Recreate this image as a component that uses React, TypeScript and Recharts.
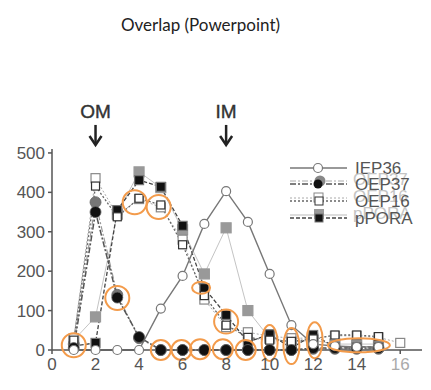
import React from 'react'
import {
  ComposedChart,
  Line,
  Scatter,
  XAxis,
  YAxis,
  ReferenceDot,
} from 'recharts'

const fractions = [1, 2, 3, 4, 5, 6, 7, 8, 9, 10, 11, 12, 13, 14, 15, 16]
const iep36 = [0, 0, 0, 0, 105, 188, 320, 403, 325, 193, 63, 15, 10, 8, 8, null]
const oep37 = [5, 350, 133, 33, 0, 0, 0, 0, 0, 0, 0, 5, 5, 5, 5, null]
const oep37Gray = [15, 375, 140, 30, 0, 0, 0, 0, 0, 0, 0, 3, 3, 3, 3, null]
const oep16 = [25, 416, 338, 385, 368, 267, 138, 63, 32, 25, 22, 28, 38, 38, 34, null]
const oep16Gray = [30, 436, 342, 383, 362, 280, 128, 58, 45, 35, 30, 30, 36, 36, 32, 18]
const ppora = [10, 18, 355, 431, 414, 315, 157, 89, 20, 40, 5, 38, 8, 8, 8, null]
const pporaGray = [25, 84, 345, 452, 412, 305, 193, 310, 100, 30, 20, 25, 15, 15, 15, null]

const xTicks = [0, 2, 4, 6, 8, 10, 12, 14, 16]
const yTicks = [0, 100, 200, 300, 400, 500]

const markers = [
  { label: 'OM', x: 2 },
  { label: 'IM', x: 8 },
]

// orange highlights drawn over the scan
const circleMarks = [
  { x: 1, y: 12 },
  { x: 3, y: 132 },
  { x: 3.8, y: 375 },
  { x: 4.9, y: 363 },
  { x: 8, y: 72 },
]
const baseMarks = [
  { x: 5, y: 0 },
  { x: 5.95, y: 0 },
  { x: 6.8, y: 2 },
  { x: 7.85, y: 2 },
  { x: 8.9, y: 0 },
]
const smallMarks = [{ x: 6.85, y: 158 }]
const tallMarks = [
  { x: 10, y: 18 },
  { x: 11, y: 10 },
  { x: 12.07, y: 25 },
]
const wideMarks = [{ x: 14.1, y: 12 }]

const legendNames = ['IEP36', 'OEP37', 'OEP16', 'pPORA']

const rows = fractions.map((x, i) => ({
  x,
  iep36: iep36[i],
  oep37: oep37[i],
  oep37Gray: oep37Gray[i],
  oep16: oep16[i],
  oep16Gray: oep16Gray[i],
  ppora: ppora[i],
  pporaGray: pporaGray[i],
}))

const FONT = '"Liberation Sans", Arial, sans-serif'
const ORANGE = '#F39B4B'
const AXIS = '#555'

const ellipse = (rx: number, ry: number) => (props: any) => (
  <ellipse cx={props.cx} cy={props.cy} rx={rx} ry={ry} fill="none" stroke={ORANGE} strokeWidth={2} />
)

const openCircle = (props: any) =>
  props.value == null ? <g /> : (
    <circle cx={props.cx} cy={props.cy} r={4.5} fill="#fff" stroke="#777" strokeWidth={1.2} />
  )
const filledCircle = (color: string) => (props: any) =>
  props.value == null ? <g /> : <circle cx={props.cx} cy={props.cy} r={5.5} fill={color} stroke="#666" strokeWidth={0.8} />
const square = (fill: string, stroke: string, size: number) => (props: any) =>
  props.value == null ? <g /> : (
    <rect
      x={props.cx - size / 2}
      y={props.cy - size / 2}
      width={size}
      height={size}
      fill={fill}
      stroke={stroke}
      strokeWidth={1.2}
    />
  )

function ArrowLabel(props: any) {
  const { cx, cy, text } = props
  return (
    <g>
      <text x={cx} y={cy - 35} textAnchor="middle" fontFamily={FONT} fontSize={19} fill="#333" stroke="#333" strokeWidth={0.4}>
        {text}
      </text>
      <path d={`M${cx},${cy - 28} L${cx},${cy - 9}`} stroke="#222" strokeWidth={2.5} />
      <path d={`M${cx - 6},${cy - 17} L${cx},${cy - 8} L${cx + 6},${cy - 17}`} stroke="#222" strokeWidth={2.5} fill="none" />
    </g>
  )
}

function XTick(props: any) {
  const { x, y, payload } = props
  return (
    <text x={x} y={y + 14} textAnchor="middle" fontFamily={FONT} fontSize={17} fill={payload.value === 16 ? '#aaa' : '#555'}>
      {payload.value}
    </text>
  )
}

// legend rows: the second scan sits a few pixels above the first
function LegendBox() {
  const ys = [11, 27, 44, 61]
  return (
    <svg width={146} height={75} style={{ position: 'absolute', left: 285, top: 157, overflow: 'visible' }}>
      <line x1={5} x2={62} y1={ys[0]} y2={ys[0]} stroke="#777" strokeWidth={1.3} />
      <circle cx={33} cy={ys[0]} r={4.5} fill="#fff" stroke="#777" strokeWidth={1.2} />

      <line x1={5} x2={62} y1={ys[1] - 3} y2={ys[1] - 3} stroke="#aaa" strokeDasharray="6 2 2 2" />
      <line x1={5} x2={62} y1={ys[1]} y2={ys[1]} stroke="#555" strokeDasharray="6 2 2 2" strokeWidth={1.3} />
      <circle cx={35} cy={ys[1] - 3} r={5.5} fill="#888" />
      <circle cx={33} cy={ys[1]} r={4.5} fill="#111" />

      <line x1={5} x2={62} y1={ys[2] - 3} y2={ys[2] - 3} stroke="#aaa" strokeDasharray="2 2" />
      <line x1={5} x2={62} y1={ys[2]} y2={ys[2]} stroke="#666" strokeDasharray="2 2" strokeWidth={1.3} />
      <rect x={29} y={ys[2] - 8} width={9} height={9} fill="#fff" stroke="#888" />
      <rect x={30} y={ys[2] - 4} width={8} height={8} fill="#fff" stroke="#333" />

      <line x1={5} x2={62} y1={ys[3] - 3} y2={ys[3] - 3} stroke="#bbb" strokeWidth={1} />
      <line x1={5} x2={62} y1={ys[3]} y2={ys[3]} stroke="#444" strokeDasharray="4 2" strokeWidth={1.3} />
      <rect x={29} y={ys[3] - 9} width={10} height={10} fill="#999" />
      <rect x={30} y={ys[3] - 4} width={8} height={8} fill="#111" stroke="#777" />

      {legendNames.map((name, i) => (
        <g key={name}>
          {i > 0 && (
            <text x={68} y={ys[i] + 1} fontFamily={FONT} fontSize={17} fill="#c4c4c4">
              {name}
            </text>
          )}
          <text x={70} y={ys[i] + 6} fontFamily={FONT} fontSize={17} fill="#555">
            {name}
          </text>
        </g>
      ))}
    </svg>
  )
}

export default function App() {
  return (
    <div style={{ position: 'absolute', left: 0, top: 0, width: 431, height: 390, background: '#fff' }}>
      <div
        style={{
          position: 'absolute',
          top: 15,
          left: 0,
          width: 401,
          textAlign: 'center',
          fontFamily: 'Lato, "Open Sans", sans-serif',
          fontSize: 17,
          lineHeight: '20px',
          color: '#222',
        }}
      >
        Overlap (Powerpoint)
      </div>
      <ComposedChart width={431} height={390} data={rows} margin={{ top: 149, right: 9, left: 12, bottom: 10 }}>
        <XAxis
          dataKey="x"
          type="number"
          domain={[0, 17]}
          ticks={xTicks}
          tick={<XTick />}
          tickSize={4}
          height={30}
          stroke={AXIS}
          strokeWidth={1.5}
        />
        <YAxis
          type="number"
          domain={[0, 510]}
          ticks={yTicks}
          width={40}
          tickSize={4}
          tickMargin={3}
          tick={{ fontSize: 17, fill: '#555', fontFamily: FONT }}
          stroke={AXIS}
          strokeWidth={1.5}
        />
        <Line dataKey="pporaGray" stroke="#c4c4c4" strokeWidth={1} dot={square('#999', '#999', 10)} isAnimationActive={false} />
        <Line dataKey="oep16Gray" stroke="#aaa" strokeDasharray="2 2" strokeWidth={1} dot={square('#fff', '#888', 9)} isAnimationActive={false} />
        <Line dataKey="oep37Gray" stroke="#999" strokeDasharray="6 2 2 2" strokeWidth={1.2} dot={filledCircle('#777')} isAnimationActive={false} />
        <Line dataKey="ppora" stroke="#444" strokeDasharray="4 2" strokeWidth={1.3} dot={square('#111', '#777', 9)} isAnimationActive={false} />
        <Line dataKey="oep16" stroke="#666" strokeDasharray="2 2" strokeWidth={1.3} dot={square('#fff', '#333', 8)} isAnimationActive={false} />
        <Line dataKey="oep37" stroke="#555" strokeDasharray="6 2 2 2" strokeWidth={1.5} dot={filledCircle('#111')} isAnimationActive={false} />
        <Line dataKey="iep36" stroke="#777" strokeWidth={1.4} dot={openCircle} isAnimationActive={false} />
        <Scatter data={circleMarks} dataKey="y" shape={ellipse(12, 12)} isAnimationActive={false} />
        <Scatter data={baseMarks} dataKey="y" shape={ellipse(10, 10)} isAnimationActive={false} />
        <Scatter data={smallMarks} dataKey="y" shape={ellipse(9, 6)} isAnimationActive={false} />
        <Scatter data={tallMarks} dataKey="y" shape={ellipse(8, 18)} isAnimationActive={false} />
        <Scatter data={wideMarks} dataKey="y" shape={ellipse(31, 7)} isAnimationActive={false} />
        {markers.map((m) => (
          <ReferenceDot key={m.label} x={m.x} y={500} r={0} shape={(p: any) => <ArrowLabel {...p} text={m.label} />} />
        ))}
      </ComposedChart>
      <LegendBox />
    </div>
  )
}
